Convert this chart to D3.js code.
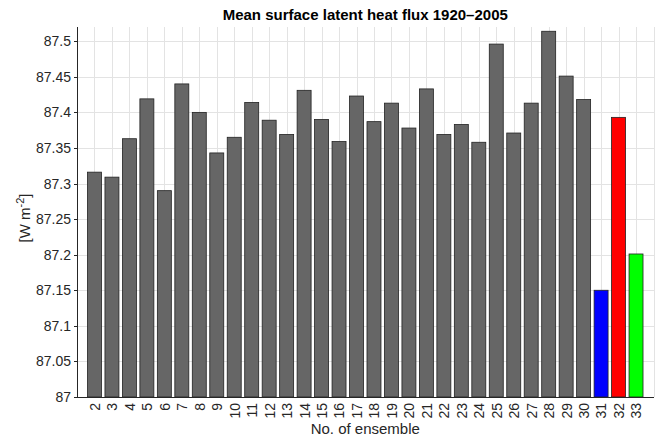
<!DOCTYPE html>
<html lang="en">
<head>
    <meta charset="UTF-8">
    <title>Mean surface latent heat flux 1920–2005</title>
    <style>
        body { margin: 0; background: #fff; }
        svg text { font-family: "Liberation Sans", Arial, sans-serif; fill: #262626; }
        .grid line { stroke: #e3e3e3; stroke-width: 1; shape-rendering: crispEdges; }
        .axis path, .axis line { stroke: #262626; shape-rendering: crispEdges; }
        .axis text { font-size: 14px; }
    </style>
</head>
<body>
    <svg id="chart" width="659" height="439"></svg>

    <script src="https://d3js.org/d3.v7.min.js"></script>
    <script>
        // Ensemble members and their mean values
        const ensembles = [2, 3, 4, 5, 6, 7, 8, 9, 10, 11, 12, 13, 14, 15, 16, 17,
                           18, 19, 20, 21, 22, 23, 24, 25, 26, 27, 28, 29, 30, 31, 32, 33];
        const fluxValues = [87.316, 87.309, 87.363, 87.419, 87.290, 87.440, 87.400, 87.343,
                            87.365, 87.414, 87.389, 87.369, 87.431, 87.390, 87.359, 87.423,
                            87.387, 87.413, 87.378, 87.433, 87.369, 87.383, 87.358, 87.496,
                            87.371, 87.413, 87.514, 87.451, 87.418, 87.150, 87.393, 87.201];
        const barColors = ["#666666", "#666666", "#666666", "#666666", "#666666", "#666666", "#666666", "#666666",
                           "#666666", "#666666", "#666666", "#666666", "#666666", "#666666", "#666666", "#666666",
                           "#666666", "#666666", "#666666", "#666666", "#666666", "#666666", "#666666", "#666666",
                           "#666666", "#666666", "#666666", "#666666", "#666666", "#0000ff", "#ff0000", "#00ff00"];
        const yTicks = [87, 87.05, 87.1, 87.15, 87.2, 87.25, 87.3, 87.35, 87.4, 87.45, 87.5];

        const data = ensembles.map((e, i) => ({ e: e, v: fluxValues[i], c: barColors[i] }));

        // Plot box
        const plotLeft = 77, plotRight = 653.5, plotTop = 27, plotBottom = 397;
        const svg = d3.select("#chart");

        const x = d3.scaleLinear().domain([1, 34]).range([plotLeft, plotRight]);
        const y = d3.scaleLinear().domain([87, 87.52]).range([plotBottom, plotTop]);
        const barW = (x(2) - x(1)) * 0.8;

        // Grid lines
        const grid = svg.append("g").attr("class", "grid");
        grid.selectAll("line.v").data(ensembles.concat([34])).enter().append("line")
            .attr("class", "v")
            .attr("x1", d => Math.round(x(d)) + 0.5).attr("x2", d => Math.round(x(d)) + 0.5)
            .attr("y1", plotTop).attr("y2", plotBottom);
        grid.selectAll("line.h").data(yTicks.slice(1)).enter().append("line")
            .attr("class", "h")
            .attr("x1", plotLeft).attr("x2", plotRight)
            .attr("y1", d => Math.round(y(d)) + 0.5).attr("y2", d => Math.round(y(d)) + 0.5);

        // Bars
        svg.selectAll(".bar").data(data).enter().append("rect")
            .attr("class", "bar")
            .attr("x", d => x(d.e) - barW / 2)
            .attr("width", barW)
            .attr("y", d => y(d.v))
            .attr("height", d => plotBottom - y(d.v))
            .attr("fill", d => d.c)
            .attr("stroke", "#222")
            .attr("stroke-width", 0.8);

        // Axes
        const yAxis = svg.append("g").attr("class", "axis")
            .attr("transform", "translate(" + plotLeft + ",0)")
            .call(d3.axisLeft(y).tickValues(yTicks).tickSize(3).tickSizeOuter(0).tickFormat(d => String(+d.toFixed(2))));
        yAxis.select(".domain").attr("d", "M0.5," + plotTop + "V" + plotBottom);
        yAxis.selectAll("text").attr("x", -6);

        const xAxis = svg.append("g").attr("class", "axis")
            .attr("transform", "translate(0," + plotBottom + ")")
            .call(d3.axisBottom(x).tickValues(ensembles).tickSize(0).tickSizeOuter(0).tickFormat(d3.format("d")));
        xAxis.select(".domain").attr("d", "M" + plotLeft + ",0.5H" + plotRight);
        xAxis.selectAll("text")
            .attr("transform", "rotate(-90)")
            .attr("text-anchor", "end")
            .attr("x", -6)
            .attr("y", 0)
            .attr("dy", "0.35em");

        // Title and labels
        svg.append("text")
            .attr("x", (plotLeft + plotRight) / 2).attr("y", 20)
            .attr("text-anchor", "middle")
            .style("font-size", "15px").style("font-weight", "bold")
            .style("fill", "#000")
            .text("Mean surface latent heat flux 1920–2005");

        svg.append("text")
            .attr("x", (plotLeft + plotRight) / 2).attr("y", 434)
            .attr("text-anchor", "middle")
            .style("font-size", "15px")
            .text("No. of ensemble");

        const yl = svg.append("text")
            .attr("transform", "translate(30," + ((plotTop + plotBottom) / 2 + 6) + ") rotate(-90)")
            .attr("text-anchor", "middle")
            .style("font-size", "15px");
        yl.append("tspan").text("[W m");
        yl.append("tspan").attr("dy", -6).style("font-size", "11px").text("-2");
        yl.append("tspan").attr("dy", 6).text("]");
    </script>
</body>
</html>
